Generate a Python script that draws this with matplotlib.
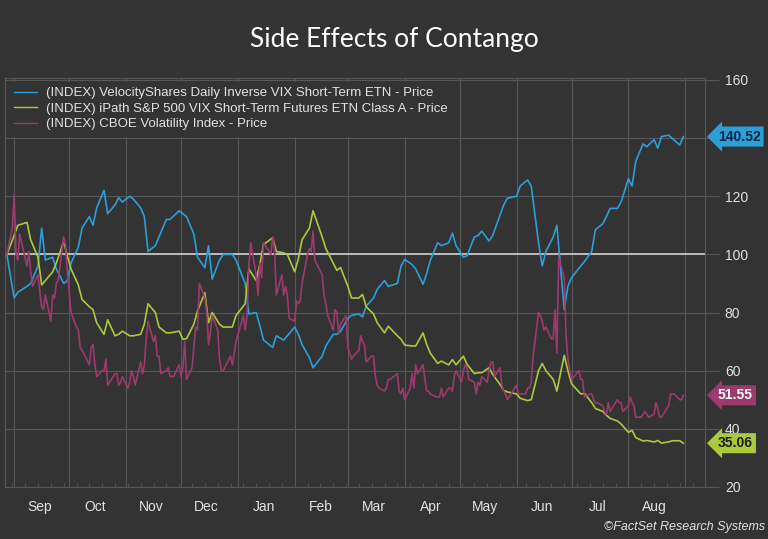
import matplotlib
matplotlib.use("Agg")
import matplotlib.pyplot as plt
import matplotlib.dates as mdates
import matplotlib.transforms as mtransforms
from matplotlib.ticker import NullFormatter
import pandas as pd

# trading days, Aug 28 2015 .. Aug 31 2016 (NYSE holidays removed)
holidays = ['2015-09-07', '2015-11-26', '2015-12-25', '2016-01-01', '2016-01-18',
            '2016-02-15', '2016-03-25', '2016-05-30', '2016-07-04']
dates = pd.bdate_range('2015-08-28', '2016-08-31')
dates = dates[~dates.isin(pd.to_datetime(holidays))]
etn_dates = dates[::2]

# CBOE Volatility Index, indexed to 100 (daily)
vix = [100, 109,
       120.5, 100, 98, 107, 96, 101, 94, 89, 93, 87, 82, 81, 86, 77, 86, 85, 90, 91, 106, 103, 94,
       87, 80, 75, 74, 68, 67, 66, 62, 68, 69, 62, 58, 60, 60, 64, 55, 56, 59, 59, 55, 56, 58,
       54, 56, 60, 58, 55, 63, 59, 62, 71, 77, 70, 72, 65, 65, 59, 60, 61, 58, 58, 62,
       58, 61, 70, 57, 61, 68, 75, 74, 90, 85, 80, 69, 73, 79, 74, 64, 60, 60, 65, 62, 66, 70,
       79, 74, 79, 96, 104, 93, 86, 97, 92, 104, 100, 106, 102, 86, 93, 86, 89, 86, 78,
       77, 84, 83, 84, 90, 100, 102, 101, 108, 98, 93, 86, 83, 79, 74, 81, 80, 73, 76, 79,
       68, 66, 64, 65, 67, 72, 70, 69, 63, 65, 65, 58, 55, 54, 53, 54, 57, 57, 59, 53, 52, 54,
       50, 54, 59, 54, 62, 59, 62, 57, 53, 53, 52, 51, 51, 51, 54, 51, 54, 54, 53, 58, 60,
       56, 60, 62, 61, 57, 56, 52, 56, 55, 58, 56, 60, 63, 63, 58, 61, 55, 53, 52, 50, 54,
       55, 52, 52, 52, 54, 54, 56, 65, 80, 79, 77, 74, 75, 71, 71, 81, 66, 99, 92, 72, 64, 60,
       57, 60, 57, 57, 51, 52, 52, 50, 49, 49, 48, 46, 45, 49, 46, 49, 50, 49, 49, 46,
       48, 51, 49, 48, 44, 44, 45, 46, 45, 44, 45, 49, 47, 44, 44, 47, 48, 52, 52, 52, 50, 50, 51.55]

# VelocityShares Daily Inverse VIX Short-Term ETN (every 2nd trading day)
xiv = [100, 85, 87, 89, 90, 96, 109, 98, 99, 95, 90, 91,
       97, 102.5, 109, 113, 110, 116, 122, 114, 117, 119.5, 118,
       120, 119, 116, 113, 101, 103, 106, 112, 112, 115,
       114, 113, 107, 99, 95.4, 103, 91.5, 98, 100, 100, 98,
       90, 79.5, 80, 75.5, 70.5, 68, 72, 70.5, 72,
       75, 72.5, 69, 64.5, 61, 65, 68.5, 72.5, 72.5, 73.5,
       78, 79, 79.5, 78.5, 82.2, 85, 88, 91, 89, 90, 96,
       98.3, 96.5, 95, 89.7, 93.5, 98, 104, 103, 104, 107.3, 103,
       99, 99.5, 106, 106.5, 108, 104.6, 106.5, 113.5, 117, 119.3,
       120, 123.5, 125.6, 123.5, 104, 96, 101, 106, 110, 81, 89,
       92, 96, 97.5, 101, 108.5, 110.5, 113, 115.8, 115.8, 118,
       126, 123.5, 132, 138, 137, 139.5, 136.5, 140.5, 141, 139.8, 137.6, 140.52]

# iPath S&P 500 VIX Short-Term Futures ETN (every 2nd trading day)
vxx = [100, 106.5, 110, 111, 105, 99, 89.5, 91, 94, 97, 104.5, 99.4,
       95, 89.5, 84.5, 82, 81, 76.5, 72.5, 77.5, 72, 72.5, 73.6,
       72, 72, 72.5, 76, 83, 80, 75, 73, 73, 73.6,
       70.8, 71, 76, 80.5, 86.8, 76.5, 80, 76, 75, 75, 79,
       83, 95, 91, 96.6, 103.4, 105.7, 101, 100.5, 100,
       94, 98.5, 105, 109, 115, 106, 102, 97, 94.5, 95.5,
       89, 85, 85, 86.2, 82, 79.5, 76.5, 73, 75.3, 72, 70.8,
       68.8, 68.5, 68.5, 73, 69, 66, 62.5, 63.3, 62, 63.8, 62,
       65, 62.2, 59, 59.3, 59.3, 61, 58.7, 55.3, 53.2, 52.7,
       52, 50.5, 49.7, 50, 60, 62.5, 60, 57, 53, 65.3, 60,
       55.5, 52, 52.2, 49, 47, 46, 44.7, 43.6, 42.7, 41.7,
       38.8, 39.5, 37, 35.8, 36, 35.5, 36, 35.1, 35.5, 35.9, 35.9, 35.06]

series_labels = ['(INDEX) VelocityShares Daily Inverse VIX Short-Term ETN - Price',
                 '(INDEX) iPath S&P 500 VIX Short-Term Futures ETN Class A - Price',
                 '(INDEX) CBOE Volatility Index - Price']
month_names = ['Sep', 'Oct', 'Nov', 'Dec', 'Jan', 'Feb', 'Mar', 'Apr', 'May', 'Jun', 'Jul', 'Aug']
yticks = [20, 40, 60, 80, 100, 120, 140, 160]
# 140 sits under the last-value tag, so it shows no label
ytick_labels = ['20', '40', '60', '80', '100', '120', '', '160']

bg = '#333333'
grid = '#585858'
txt = '#e2e2e2'
blue = '#2a9fd8'
green = '#abc93c'
pink = '#9c3a6e'

fig = plt.figure(figsize=(7.68, 5.39), dpi=100, facecolor=bg)
ax = fig.add_axes([0.0065, 0.0965, 0.912, 0.759])
ax.set_facecolor(bg)

ax.plot(etn_dates, xiv, color=blue, lw=1.2, label=series_labels[0])
ax.plot(etn_dates, vxx, color=green, lw=1.2, label=series_labels[1])
ax.plot(dates[:len(vix)], vix, color=pink, lw=1.2, label=series_labels[2])
ax.axhline(100, color='#cfcfcf', lw=1.2, zorder=1.5)

ax.set_ylim(20, 160.7)
ax.set_xlim(pd.Timestamp('2015-08-27'), pd.Timestamp('2016-09-12'))

ax.yaxis.tick_right()
ax.set_yticks(yticks)
ax.set_yticklabels(ytick_labels)
ax.tick_params(axis='y', colors=grid, length=10, width=0.8, labelcolor=txt,
               labelsize=10, pad=4)
for lbl in ax.get_yticklabels():
    lbl.set_family('Liberation Sans')

ax.xaxis.set_major_locator(mdates.MonthLocator())
ax.xaxis.set_major_formatter(NullFormatter())
ax.xaxis.set_minor_locator(mdates.WeekdayLocator(byweekday=mdates.MO))
ax.tick_params(axis='x', which='major', length=0)
ax.tick_params(axis='x', which='minor', length=3, direction='in', color=grid)
ax.grid(True, which='major', color=grid, lw=0.8)
ax.set_axisbelow(True)

for s in ax.spines.values():
    s.set_color(grid)
    s.set_linewidth(0.8)

trans = mtransforms.blended_transform_factory(ax.transData, ax.transAxes)
mids = pd.date_range('2015-09-01', periods=12, freq='MS') + pd.Timedelta(days=14)
for d, name in zip(mids, month_names):
    ax.text(d, -0.05, name, transform=trans, ha='center', va='center', color=txt,
            fontsize=10, family=['Liberation Sans Narrow', 'Liberation Sans'])

leg = ax.legend(loc='upper left', bbox_to_anchor=(0, 1), frameon=True, facecolor=bg,
                edgecolor=bg, framealpha=1, labelcolor=txt,
                handlelength=1.7, handletextpad=0.7, labelspacing=0.25,
                borderaxespad=0.3, borderpad=0.4, prop={'family': 'Liberation Sans', 'size': 9.5})
for line in leg.get_lines():
    line.set_linewidth(1.0)

ytrans = mtransforms.blended_transform_factory(ax.transAxes, ax.transData)
tags = [(xiv[-1], blue, '#0b2440'), (vix[-1], pink, 'white'), (vxx[-1], green, '#14210a')]
for val, fc, tc in tags:
    ax.annotate(f'{val:.2f}', xy=(1, val), xycoords=ytrans, xytext=(9, 0),
                textcoords='offset points', ha='left', va='center', color=tc,
                fontsize=10, fontweight='bold', family='Liberation Sans',
                bbox=dict(boxstyle='larrow,pad=0.22', fc=fc, ec='none'),
                annotation_clip=False)

fig.text(0.514, 0.926, 'Side Effects of Contango', ha='center', va='center',
         color='white', fontsize=19, family='Lato')
fig.text(0.996, 0.022, '\u00a9FactSet Research Systems', ha='right', va='center',
         color=txt, fontsize=9, style='italic', family='Liberation Sans')

fig.savefig('out.png', dpi=100, facecolor=bg)
